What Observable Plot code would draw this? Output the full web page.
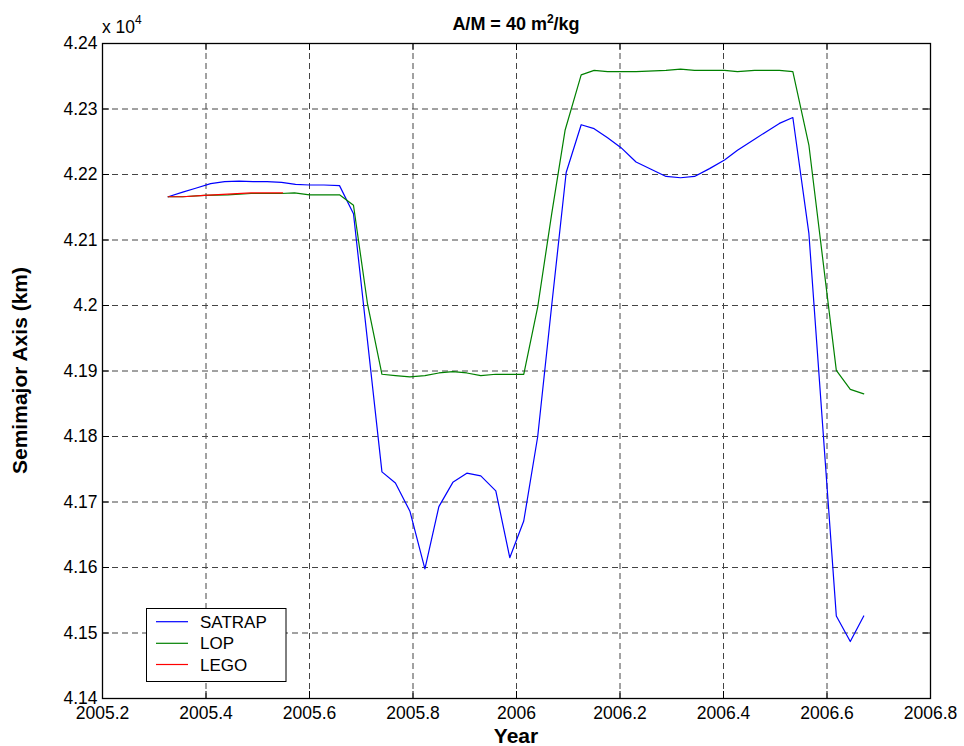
<!DOCTYPE html>
<html><head><meta charset="utf-8">
<script src="https://cdn.jsdelivr.net/npm/d3@7"></script>
<script src="https://cdn.jsdelivr.net/npm/@observablehq/plot@0.6"></script>
<style>body{margin:0;background:#fff;} svg{display:block}</style>
</head><body><div id="chart"></div>
<script>
// ---- data (semimajor axis in km, time in decimal years) ----
const satrapYear = [2005.327, 2005.355, 2005.380, 2005.409, 2005.436, 2005.464, 2005.491, 2005.518, 2005.546, 2005.573, 2005.600, 2005.628, 2005.658, 2005.685, 2005.740, 2005.766, 2005.794, 2005.823, 2005.850, 2005.877, 2005.904, 2005.931, 2005.960, 2005.987, 2006.014, 2006.041, 2006.068, 2006.096, 2006.125, 2006.150, 2006.176, 2006.202, 2006.231, 2006.260, 2006.289, 2006.317, 2006.344, 2006.373, 2006.402, 2006.427, 2006.460, 2006.482, 2006.508, 2006.534, 2006.565, 2006.618, 2006.645, 2006.671];
const satrapKm = [42166, 42173, 42179, 42186, 42189, 42190, 42189, 42189, 42188, 42185, 42184, 42184, 42183, 42140, 41746, 41729, 41686, 41598, 41693, 41730, 41744, 41740, 41717, 41615, 41671, 41800, 42000, 42203, 42276, 42270, 42256, 42241, 42219, 42208, 42197, 42195, 42197, 42209, 42222, 42237, 42254, 42265, 42278, 42287, 42110, 41526, 41487, 41526];

const lopYear = [2005.327, 2005.355, 2005.397, 2005.442, 2005.487, 2005.545, 2005.571, 2005.600, 2005.658, 2005.685, 2005.712, 2005.740, 2005.766, 2005.794, 2005.823, 2005.850, 2005.877, 2005.904, 2005.931, 2005.960, 2005.987, 2006.014, 2006.041, 2006.068, 2006.094, 2006.125, 2006.150, 2006.176, 2006.231, 2006.289, 2006.317, 2006.344, 2006.402, 2006.427, 2006.460, 2006.508, 2006.534, 2006.565, 2006.618, 2006.645, 2006.671];
const lopKm = [42166, 42166, 42168, 42169, 42171, 42171, 42172, 42169, 42169, 42153, 42003, 41895, 41893, 41891, 41893, 41897, 41899, 41897, 41893, 41895, 41895, 41895, 41998, 42140, 42268, 42352, 42359, 42357, 42357, 42359, 42361, 42359, 42359, 42357, 42359, 42359, 42357, 42245, 41901, 41872, 41865];

const legoYear = [2005.327, 2005.355, 2005.397, 2005.442, 2005.487, 2005.548];
const legoKm = [42166, 42166, 42168, 42170, 42172, 42172];

const seriesNames = ["SATRAP", "LOP", "LEGO"];
const seriesColors = ["#0000ff", "#008000", "#ff0000"];

const xTicks = [2005.2, 2005.4, 2005.6, 2005.8, 2006, 2006.2, 2006.4, 2006.6, 2006.8];
const yTicks = [41400, 41500, 41600, 41700, 41800, 41900, 42000, 42100, 42200, 42300, 42400];

const titleText = "A/M = 40 m";
const xLabel = "Year";
const yLabel = "Semimajor Axis (km)";

// ---- build tables ----
const toRows = (xs, ys, name) => xs.map((x, i) => ({year: x, km: ys[i], series: name}));
const satrap = toRows(satrapYear, satrapKm, "SATRAP");
const lop = toRows(lopYear, lopKm, "LOP");
const lego = toRows(legoYear, legoKm, "LEGO");

// ---- layout ----
const W = 964, H = 746, mL = 102, mR = 34, mT = 43, mB = 48;
const plotW = W - mL - mR, plotH = H - mT - mB;
const font = "'Liberation Sans', Arial, Helvetica, sans-serif";
const tickLen = 7;
const gridStyle = {stroke: "#444", strokeOpacity: 1, strokeWidth: 1, strokeDasharray: "6,4"};

const chart = Plot.plot({
  width: W, height: H,
  marginLeft: mL, marginRight: mR, marginTop: mT, marginBottom: mB,
  style: {fontFamily: font, fontSize: "17.5px", color: "#000", background: "#fff"},
  x: {domain: [2005.2, 2006.8]},
  y: {domain: [41400, 42400]},
  marks: [
    Plot.gridX(xTicks, gridStyle),
    Plot.gridY(yTicks, gridStyle),
    Plot.ruleX(xTicks, {x: d => d, insetTop: plotH - tickLen, stroke: "#000"}),
    Plot.ruleX(xTicks, {x: d => d, insetBottom: plotH - tickLen, stroke: "#000"}),
    Plot.ruleY(yTicks, {y: d => d, insetRight: plotW - tickLen, stroke: "#000"}),
    Plot.ruleY(yTicks, {y: d => d, insetLeft: plotW - tickLen, stroke: "#000"}),
    Plot.line(satrap, {x: "year", y: "km", stroke: seriesColors[0], strokeWidth: 1.2}),
    Plot.line(lop, {x: "year", y: "km", stroke: seriesColors[1], strokeWidth: 1.2}),
    Plot.line(lego, {x: "year", y: "km", stroke: seriesColors[2], strokeWidth: 1.2}),
    Plot.frame({stroke: "#000", strokeWidth: 1.3}),
    Plot.axisX(xTicks, {tickSize: 0, tickPadding: 8, tickFormat: d => String(d), label: null}),
    Plot.axisY(yTicks, {tickSize: 0, tickPadding: 5, tickFormat: d => String(+(d / 1e4).toFixed(2)), label: null})
  ]
});

document.getElementById("chart").appendChild(chart);
const svg = d3.select(chart);

// title
const t = svg.append("text").attr("x", mL + plotW / 2).attr("y", 30)
  .attr("text-anchor", "middle").attr("font-family", font)
  .attr("font-size", 18).attr("font-weight", "bold").attr("fill", "#000");
t.append("tspan").text(titleText);
t.append("tspan").attr("dy", -7).attr("font-size", 12).text("2");
t.append("tspan").attr("dy", 7).text("/kg");

// exponent
const e = svg.append("text").attr("x", mL).attr("y", 33).attr("text-anchor", "start")
  .attr("font-family", font).attr("font-size", 17.5).attr("fill", "#000");
e.append("tspan").text("x 10");
e.append("tspan").attr("dy", -9).attr("font-size", 12).text("4");

// axis labels
svg.append("text").attr("x", mL + plotW / 2).attr("y", 743)
  .attr("text-anchor", "middle").attr("font-family", font)
  .attr("font-size", 21).attr("font-weight", "bold").attr("fill", "#000").text(xLabel);
svg.append("text").attr("transform", `translate(27,${mT + plotH / 2}) rotate(-90)`)
  .attr("text-anchor", "middle").attr("font-family", font)
  .attr("font-size", 21).attr("font-weight", "bold").attr("fill", "#000").text(yLabel);

// legend
const lg = svg.append("g").attr("text-anchor", "start");
lg.append("rect").attr("x", 146.5).attr("y", 608.5).attr("width", 139.5).attr("height", 73)
  .attr("fill", "#fff").attr("stroke", "#000").attr("stroke-width", 1);
const rowY = [621.7, 643.3, 664.5];
seriesNames.forEach((name, i) => {
  lg.append("line").attr("x1", 156).attr("x2", 188).attr("y1", rowY[i]).attr("y2", rowY[i])
    .attr("stroke", seriesColors[i]).attr("stroke-width", 1.2);
  lg.append("text").attr("x", 200).attr("y", rowY[i]).attr("dy", "0.36em")
    .attr("text-anchor", "start")
    .attr("font-family", font).attr("font-size", 17).attr("fill", "#000").text(name);
});
</script>
</body></html>
